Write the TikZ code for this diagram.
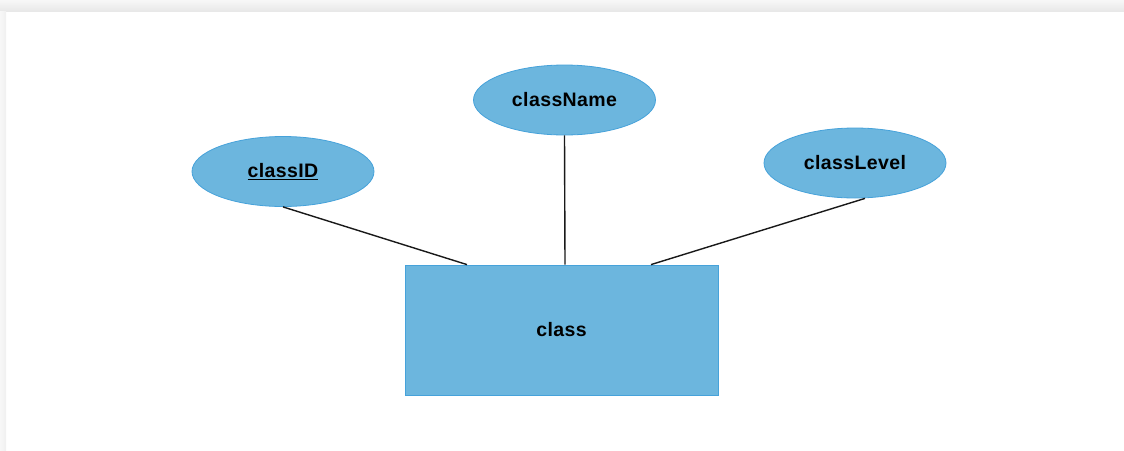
\documentclass[tikz,border=0pt]{standalone}
\usepackage{fontspec}
\setmainfont{Liberation Sans}[LetterSpace=2]
\usetikzlibrary{shapes.geometric}
\definecolor{entfill}{RGB}{108,182,222}
\definecolor{entline}{RGB}{70,162,218}
\begin{document}
\begin{tikzpicture}[x=1pt,y=-1pt,
  attr/.style={ellipse, draw=entline, fill=entfill, line width=0.8pt,
    minimum width=182pt, minimum height=70pt, inner sep=0pt,
    font=\fontsize{19.5}{22}\selectfont\bfseries},
  entity/.style={rectangle, draw=entline, fill=entfill, line width=0.8pt,
    minimum width=313pt, minimum height=130pt, inner sep=0pt,
    font=\fontsize{19.5}{22}\selectfont\bfseries},
  link/.style={draw=black!90, line width=1.4pt}]
  % page area with its soft shadow at the top and left
  \useasboundingbox (0,0) rectangle (1124,450);
  \fill[white] (0,0) rectangle (1124,450);
  \shade[top color=black!3, bottom color=black!9] (0,0) rectangle (1124,11);
  \shade[left color=black!3, right color=black!6] (0,11) rectangle (6,450);

  % entity and its attributes
  \node[entity] (cls) at (561.5,330) {class};
  \node[attr] (cid) at (283,171.5) {\underline{classID}};
  \node[attr] (cname) at (564.5,100) {className};
  \node[attr] (clevel) at (855,163) {classLevel};

  % connectors
  \coordinate (j1) at ([xshift=-94.5pt]cls.north);
  \coordinate (j2) at ([xshift=3.5pt]cls.north);
  \coordinate (j3) at ([xshift=89.5pt]cls.north);
  \draw[link] (cid.south) -- (j1);
  \draw[link] (cname.south) -- (j2);
  \draw[link] ([xshift=10pt]clevel.south) -- (j3);
\end{tikzpicture}
\end{document}
